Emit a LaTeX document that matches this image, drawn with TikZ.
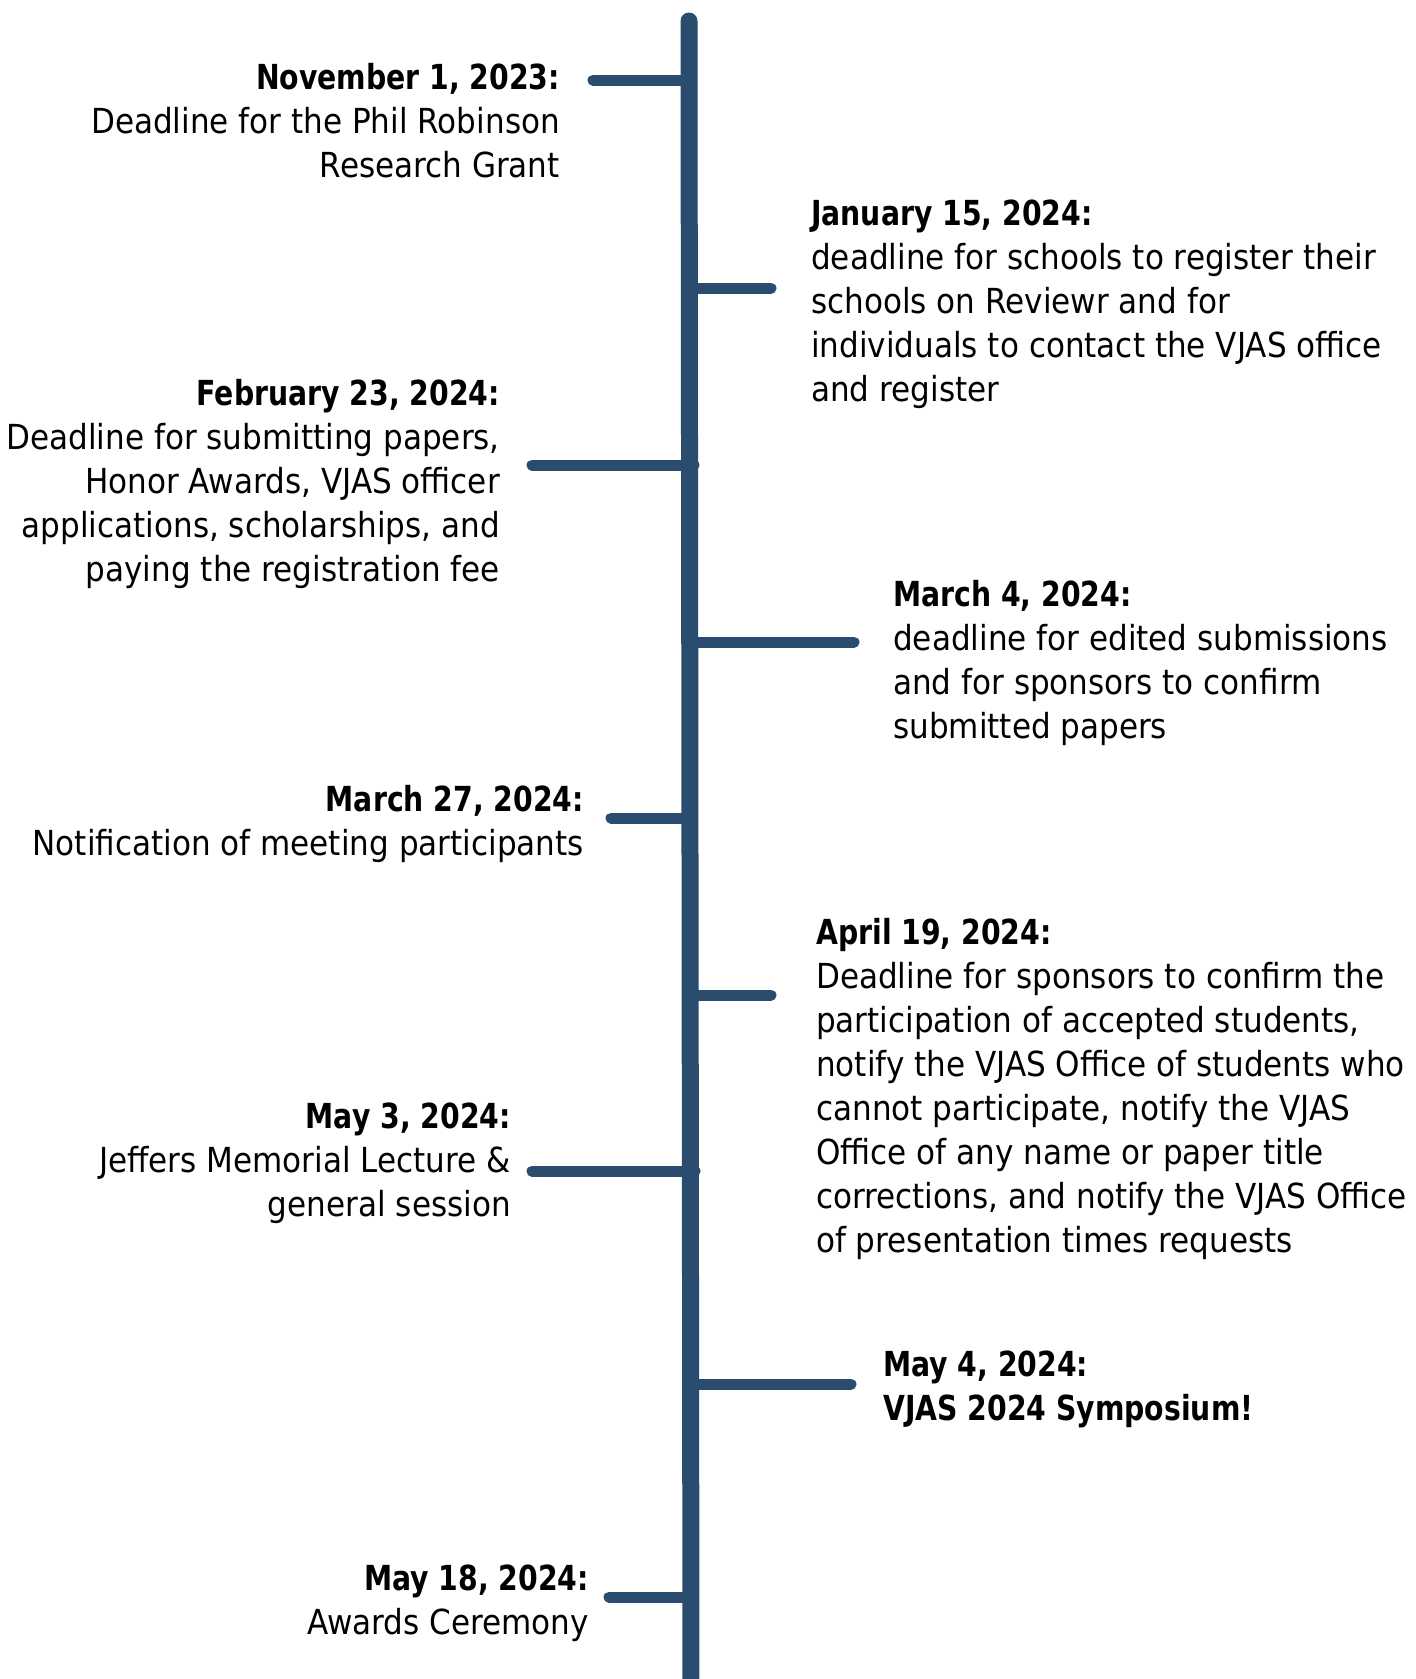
\documentclass[tikz,border=0pt]{standalone}
\usepackage{fontspec}
\setmainfont{DejaVu Sans}[FakeStretch=0.9, BoldFeatures={FakeStretch=0.82}]
\definecolor{tlblue}{HTML}{2A4C6F}
\tikzset{
  spine/.style={draw=tlblue, line width=17pt, line cap=round},
  tick/.style={draw=tlblue, line width=11pt, line cap=round},
  lefttext/.style={anchor=base east, inner sep=0pt, font=\fontsize{34.5}{44}\selectfont},
  righttext/.style={anchor=base west, inner sep=0pt, font=\fontsize{34.5}{44}\selectfont},
}
\newcommand{\lblock}[1]{\begin{tabular}[t]{@{}r@{}}#1\end{tabular}}
\newcommand{\rblock}[1]{\begin{tabular}[t]{@{}l@{}}#1\end{tabular}}
\begin{document}
\begin{tikzpicture}[x=1pt,y=-1pt]
\useasboundingbox (0,0) rectangle (1416,1679);
% spine
\coordinate (top) at (689,21);
\coordinate (bot) at (691,1700);
\draw[spine] (top) -- (bot);

% ticks
\coordinate (a1) at (593,80);   \coordinate (b1) at (689,80);
\coordinate (a2) at (689,288);  \coordinate (b2) at (771,288);
\coordinate (a3) at (532,465);  \coordinate (b3) at (694,465);
\coordinate (a4) at (689,642);  \coordinate (b4) at (854,642);
\coordinate (a5) at (611,818);  \coordinate (b5) at (690,818);
\coordinate (a6) at (690,995);  \coordinate (b6) at (771,995);
\coordinate (a7) at (532,1171); \coordinate (b7) at (695,1171);
\coordinate (a8) at (691,1384); \coordinate (b8) at (851,1384);
\coordinate (a9) at (609,1597); \coordinate (b9) at (691,1597);
\foreach \i in {1,...,9} \draw[tick] (a\i) -- (b\i);

% texts
\node[lefttext] (n1) at (560,89) {\lblock{\textbf{November 1, 2023:}\\Deadline for the Phil Robinson\\Research Grant}};
\node[righttext] (n2) at (811,225) {\rblock{\textbf{January 15, 2024:}\\deadline for schools to register their\\schools on Reviewr and for\\individuals to contact the VJAS office\\and register}};
\node[lefttext] (n3) at (500,405) {\lblock{\textbf{February 23, 2024:}\\Deadline for submitting papers,\\Honor Awards, VJAS officer\\applications, scholarships, and\\paying the registration fee}};
\node[righttext] (n4) at (893,606) {\rblock{\textbf{March 4, 2024:}\\deadline for edited submissions\\and for sponsors to confirm\\submitted papers}};
\node[lefttext] (n5) at (584,811) {\lblock{\textbf{March 27, 2024:}\\Notification of meeting participants}};
\node[righttext] (n6) at (816,944) {\rblock{\textbf{April 19, 2024:}\\Deadline for sponsors to confirm the\\participation of accepted students,\\notify the VJAS Office of students who\\cannot participate, notify the VJAS\\Office of any name or paper title\\corrections, and notify the VJAS Office\\of presentation times requests}};
\node[lefttext] (n7) at (511,1128) {\lblock{\textbf{May 3, 2024:}\\Jeffers Memorial Lecture \&\\general session}};
\node[righttext] (n8) at (883,1376) {\rblock{\textbf{May 4, 2024:}\\\textbf{VJAS 2024 Symposium!}}};
\node[lefttext] (n9) at (589,1590) {\lblock{\textbf{May 18, 2024:}\\Awards Ceremony}};
\end{tikzpicture}
\end{document}
